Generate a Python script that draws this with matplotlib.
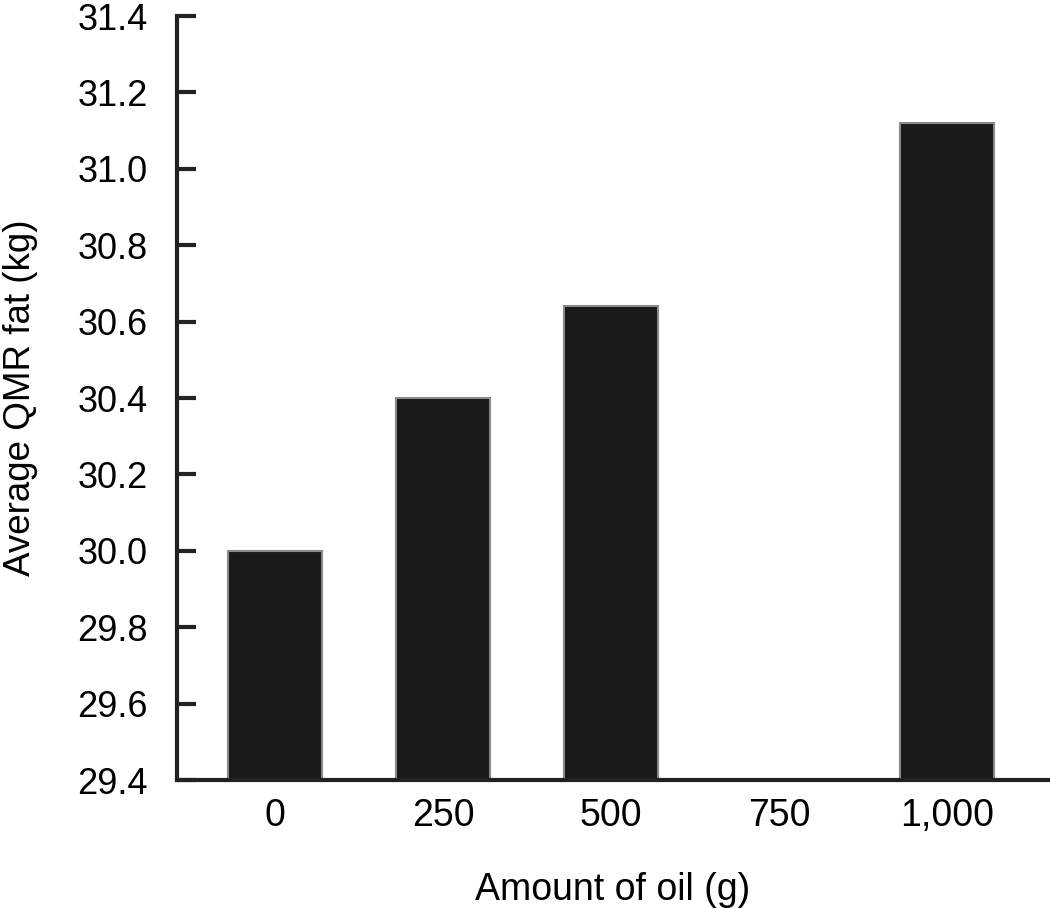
import matplotlib.pyplot as plt

plt.rcParams['font.family'] = ['Liberation Sans', 'DejaVu Sans']

# amount of oil (g) and average QMR fat (kg); no bar at 750
categories = ['0', '250', '500', '750', '1,000']
fat = [30.0, 30.40, 30.64, None, 31.12]
yticks = [29.4, 29.6, 29.8, 30.0, 30.2, 30.4, 30.6, 30.8, 31.0, 31.2, 31.4]

fig = plt.figure(figsize=(10.5, 9.08), dpi=100)
ax = fig.add_axes([177/1050, 1 - 780/908, (1048 - 177)/1050, (780 - 16)/908])

xs = [i for i, v in enumerate(fat) if v is not None]
vals = [v for v in fat if v is not None]
base = yticks[0]
ax.bar(xs, [v - base for v in vals], bottom=base, width=0.56,
       color='#1a1a1a', edgecolor='#8a8a8a', linewidth=1.5, zorder=2)

ax.set_xlim(-0.583, 4.601)
ax.set_ylim(29.4, 31.4)
ax.set_xticks(range(len(categories)))
ax.set_xticklabels(categories)
ax.set_yticks(yticks)
ax.set_yticklabels([f'{t:.1f}' for t in yticks])

ax.tick_params(axis='y', direction='in', length=14, width=3, color='#222222',
               labelsize=26, pad=21)
ax.tick_params(axis='x', length=0, labelsize=27, pad=13)

for s in ['top', 'right']:
    ax.spines[s].set_visible(False)
ax.spines['left'].set_linewidth(3)
ax.spines['bottom'].set_linewidth(3)
ax.spines['left'].set_color('#222222')
ax.spines['bottom'].set_color('#222222')

ax.set_ylabel('Average QMR fat (kg)', fontsize=26.5, labelpad=28)
ax.set_xlabel('Amount of oil (g)', fontsize=27, labelpad=27)

fig.savefig('out.png', dpi=100)
